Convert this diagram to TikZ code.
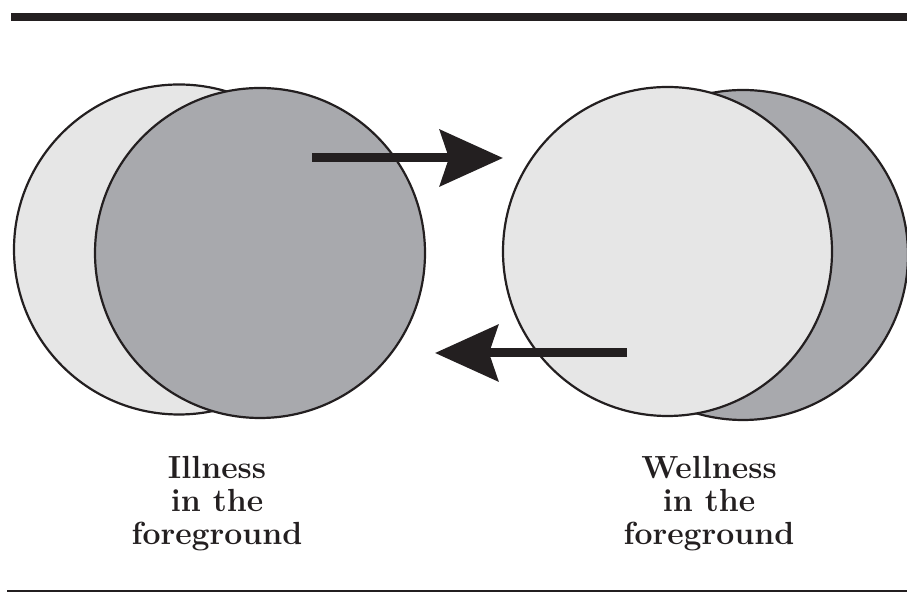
\documentclass[tikz,border=0pt]{standalone}
\usepackage{tikz}
\usetikzlibrary{arrows.meta}
\usepackage{xcolor}

\definecolor{lightdisc}{HTML}{E6E6E6}
\definecolor{darkdisc}{HTML}{A8A9AD}
\definecolor{inkblack}{HTML}{231F20}

\tikzset{
  disc/.style={circle, draw=inkblack, line width=2.2pt, inner sep=0pt, minimum size=330pt},
  bigarrow/.style={draw=inkblack, line width=9pt, -{Stealth[length=63pt, width=56pt, inset=9pt]}},
  caption/.style={align=center, inner sep=0pt, anchor=north, text=inkblack,
    font=\fontsize{32}{33}\selectfont\bfseries}
}

\begin{document}
\begin{tikzpicture}[x=1pt, y=1pt]
    \useasboundingbox (0,0) rectangle (907,593);
    % rules above and below
    \fill[inkblack] (11,572) rectangle (907,580);
    \draw[inkblack, line width=2pt] (7,2) -- (907,2);
    % illness in front
    \node[disc, fill=lightdisc] (illback) at (179,343.5) {};
    \node[disc, fill=darkdisc] (illfront) at (260,340) {};
    % wellness in front
    \node[disc, fill=darkdisc] (wellback) at (743,338) {};
    \node[disc, fill=lightdisc, minimum size=329pt] (wellfront) at (667.5,341.5) {};
    % arrows between them
    \coordinate (toptail) at (312,435);
    \coordinate (toptip) at (503,435);
    \coordinate (lowtail) at (627,240);
    \coordinate (lowtip) at (435,240);
    \draw[bigarrow] (toptail) -- (toptip);
    \draw[bigarrow] (lowtail) -- (lowtip);
    % labels
    \node[caption] (illtext) at (217,137) {Illness\\in the\\foreground};
    \node[caption] (welltext) at (709,137) {Wellness\\in the\\foreground};
\end{tikzpicture}
\end{document}
